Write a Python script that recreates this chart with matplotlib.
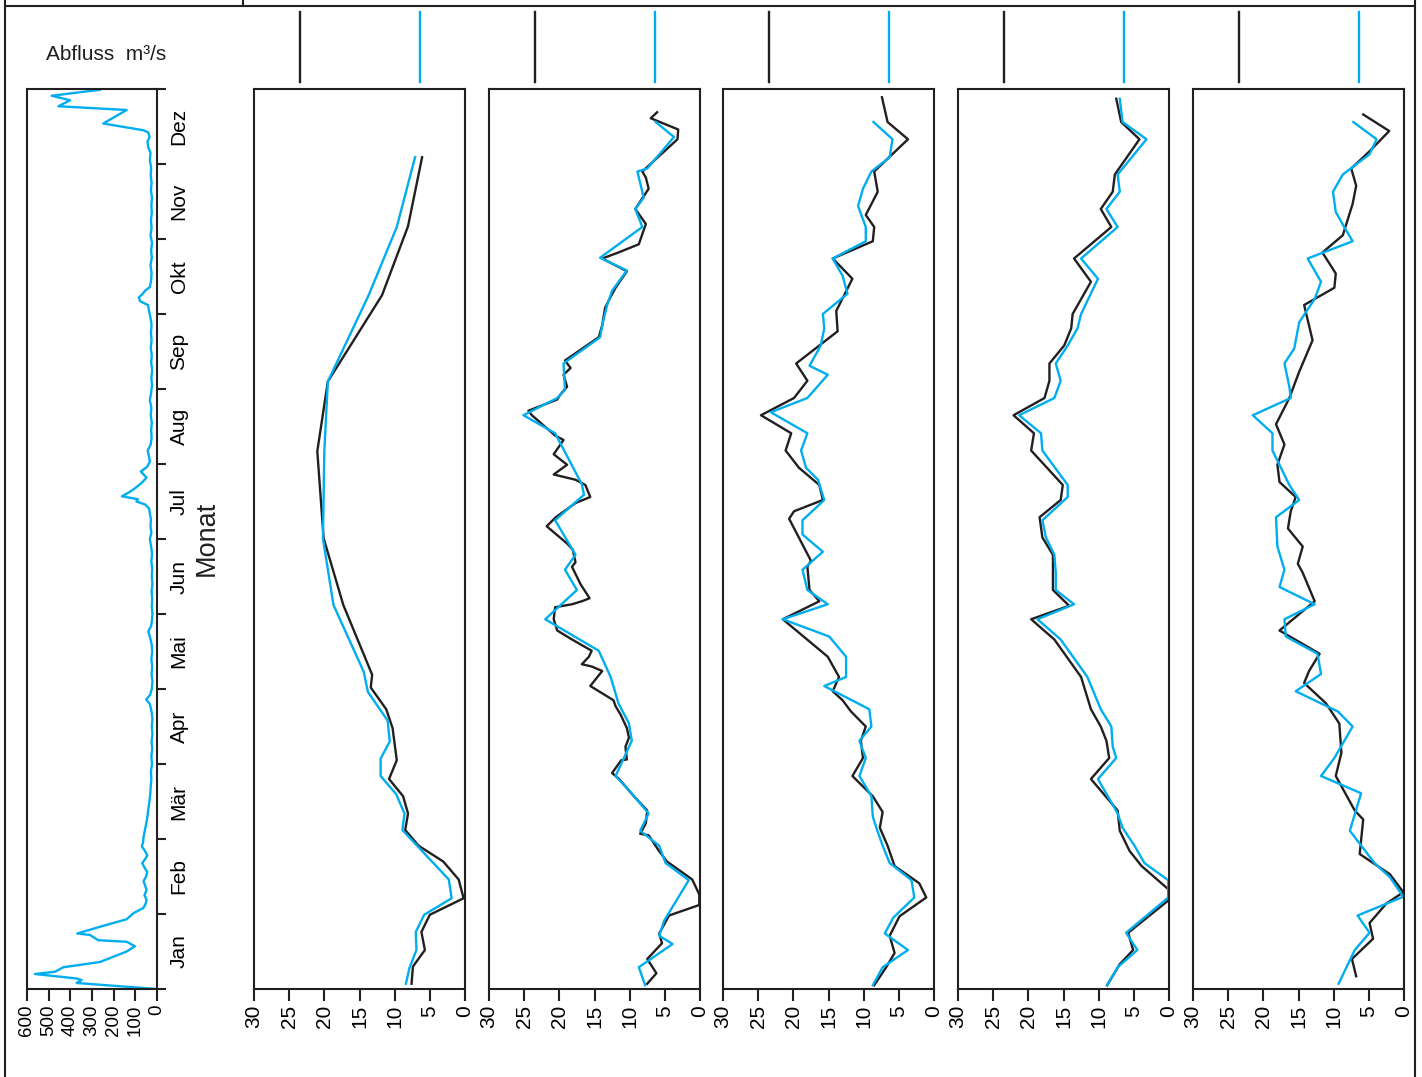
import matplotlib
matplotlib.use("Agg")
import matplotlib.pyplot as plt
from matplotlib.lines import Line2D

plt.rcParams['font.family'] = ['Liberation Sans', 'DejaVu Sans']

MONTHS = ["Jan", "Feb", "Mär", "Apr", "Mai", "Jun", "Jul", "Aug", "Sep", "Okt", "Nov", "Dez"]
Q_TICKS = [0, 100, 200, 300, 400, 500, 600]
V_TICKS = [0, 5, 10, 15, 20, 25, 30]

# discharge (month position, m3/s)
ABFLUSS = [(0.00, 0), (0.08, 371), (0.12, 348), (0.14, 371), (0.20, 563), (0.23, 471), (0.29, 432),
           (0.36, 263), (0.50, 140), (0.57, 102), (0.63, 140), (0.65, 271), (0.72, 309), (0.74, 368),
           (0.83, 263), (0.93, 140), (1.01, 109), (1.08, 63), (1.14, 52), (1.19, 48), (1.25, 58),
           (1.32, 48), (1.38, 55), (1.44, 62), (1.50, 50), (1.56, 45), (1.62, 58), (1.68, 68),
           (1.73, 55), (1.78, 45), (1.84, 55), (1.90, 70), (1.96, 64), (2.03, 62), (2.10, 57),
           (2.17, 52), (2.25, 47), (2.32, 43), (2.40, 40), (2.50, 35), (2.60, 31), (2.70, 29),
           (2.80, 26), (2.90, 28), (3.00, 23), (3.10, 26), (3.20, 22), (3.30, 25), (3.40, 21),
           (3.50, 24), (3.60, 21), (3.70, 25), (3.80, 33), (3.86, 50), (3.92, 32), (4.00, 24),
           (4.10, 21), (4.20, 25), (4.30, 22), (4.40, 26), (4.50, 22), (4.60, 25), (4.70, 33),
           (4.77, 40), (4.84, 27), (4.92, 23), (5.00, 21), (5.10, 24), (5.20, 22), (5.30, 25),
           (5.40, 21), (5.50, 24), (5.60, 22), (5.70, 26), (5.80, 23), (5.90, 27), (6.00, 33),
           (6.08, 26), (6.17, 30), (6.26, 28), (6.34, 33), (6.41, 37), (6.46, 55), (6.50, 95),
           (6.53, 88), (6.57, 162), (6.62, 130), (6.68, 100), (6.75, 70), (6.82, 48), (6.90, 75),
           (6.96, 46), (7.03, 33), (7.10, 37), (7.18, 43), (7.26, 29), (7.35, 25), (7.45, 27),
           (7.55, 24), (7.65, 29), (7.75, 26), (7.85, 33), (7.95, 27), (8.05, 23), (8.15, 26),
           (8.25, 22), (8.35, 27), (8.45, 24), (8.55, 29), (8.65, 25), (8.75, 28), (8.85, 25),
           (8.95, 30), (9.05, 37), (9.12, 42), (9.17, 78), (9.22, 84), (9.27, 66), (9.31, 55),
           (9.36, 33), (9.45, 27), (9.55, 25), (9.65, 30), (9.75, 24), (9.85, 27), (9.95, 23),
           (10.05, 30), (10.15, 25), (10.25, 28), (10.35, 24), (10.45, 26), (10.55, 23), (10.65, 28),
           (10.75, 25), (10.85, 29), (10.95, 27), (11.05, 33), (11.15, 30), (11.22, 40), (11.30, 44),
           (11.36, 34), (11.42, 40), (11.45, 63), (11.54, 248), (11.72, 140), (11.77, 455),
           (11.85, 401), (11.91, 486), (11.99, 263)]

# panel series: (month position, value)
P1_BLACK = [(0.07, 7.6), (0.30, 7.4), (0.52, 5.7), (0.76, 6.2), (0.99, 5.0), (1.21, 0.2), (1.46, 0.9),
            (1.70, 3.1), (1.91, 6.6), (2.12, 8.5), (2.34, 8.1), (2.57, 8.8), (2.80, 10.8), (3.05, 9.7),
            (3.48, 10.3), (3.73, 11.2), (4.02, 13.4), (4.19, 13.2), (5.12, 17.3), (6.01, 20.1),
            (7.17, 21.0), (8.10, 19.5), (9.25, 11.8), (10.17, 8.1), (11.09, 6.1)]
P1_BLUE = [(0.07, 8.4), (0.28, 7.9), (0.52, 6.9), (0.76, 7.0), (0.99, 5.8), (1.21, 1.9), (1.46, 2.3),
           (2.12, 8.9), (2.34, 8.6), (2.60, 9.8), (2.84, 12.0), (3.07, 12.0), (3.30, 10.7), (3.58, 11.0),
           (3.96, 13.8), (4.23, 14.4), (5.12, 18.7), (6.01, 20.2), (7.17, 20.0), (8.10, 19.5),
           (9.25, 13.7), (10.16, 9.7), (11.09, 7.1)]

P2_BLACK = [(0.07, 7.5), (0.21, 6.2), (0.40, 7.5), (0.61, 5.4), (0.74, 5.8), (0.98, 4.4), (1.12, 0.1),
            (1.26, 0.1), (1.46, 1.1), (1.70, 4.7), (1.85, 5.9), (2.05, 7.3), (2.07, 8.5), (2.21, 7.7),
            (2.38, 7.5), (2.57, 9.4), (2.80, 11.5), (2.88, 12.5), (3.05, 11.2), (3.06, 10.4), (3.23, 10.6),
            (3.35, 10.1), (3.48, 10.4), (3.56, 10.8), (3.66, 11.3), (3.77, 12.0), (3.85, 12.3), (4.04, 15.6),
            (4.24, 13.9), (4.30, 15.4), (4.33, 16.8), (4.43, 15.8), (4.51, 15.4), (4.66, 18.2), (4.78, 20.3),
            (4.93, 20.8), (5.09, 20.6), (5.13, 18.2), (5.17, 16.8), (5.21, 15.7), (5.40, 17.0), (5.63, 18.2),
            (5.69, 17.7), (5.86, 18.1), (5.94, 18.9), (6.17, 21.8), (6.29, 20.5), (6.48, 17.7), (6.56, 15.6),
            (6.72, 16.3), (6.79, 17.7), (6.86, 20.8), (6.99, 18.9), (7.13, 20.8), (7.32, 19.4), (7.38, 20.6),
            (7.65, 23.9), (7.71, 24.4), (7.86, 20.3), (7.92, 19.9), (8.03, 18.9), (8.19, 19.4), (8.28, 18.4),
            (8.38, 19.2), (8.69, 14.4), (8.85, 13.9), (9.08, 13.5), (9.23, 12.7), (9.35, 12.0), (9.57, 10.4),
            (9.74, 13.9), (9.82, 11.6), (9.93, 8.7), (10.20, 7.7), (10.40, 9.2), (10.67, 7.3), (10.82, 7.7),
            (10.90, 8.2), (11.33, 3.2), (11.46, 3.1), (11.61, 7.0), (11.69, 6.1)]
P2_BLUE = [(0.05, 7.8), (0.29, 8.7), (0.60, 3.9), (0.71, 5.8), (0.91, 5.1), (1.45, 1.6), (1.68, 4.9),
           (1.91, 5.8), (2.11, 8.5), (2.34, 7.3), (2.65, 10.1), (2.84, 12.0), (3.31, 9.7), (3.54, 10.1),
           (3.81, 11.6), (4.16, 12.7), (4.51, 14.4), (4.93, 22.0), (5.32, 17.5), (5.59, 19.2), (5.79, 17.7),
           (6.25, 20.6), (6.59, 16.5), (6.73, 16.8), (7.41, 20.6), (7.65, 25.1), (7.88, 20.3), (7.99, 19.2),
           (8.34, 19.4), (8.69, 14.2), (8.85, 13.9), (9.12, 13.2), (9.31, 12.5), (9.58, 10.4), (9.75, 14.2),
           (10.16, 8.2), (10.40, 9.2), (10.55, 8.0), (10.90, 8.9), (10.94, 7.5), (11.36, 3.7), (11.56, 6.3)]

P3_BLACK = [(0.05, 8.5), (0.29, 6.8), (0.48, 5.6), (0.71, 6.3), (0.97, 4.9), (1.22, 1.1), (1.41, 2.1),
            (1.64, 5.6), (1.91, 6.6), (2.15, 7.7), (2.36, 7.3), (2.57, 8.7), (2.84, 11.6), (3.08, 10.1),
            (3.31, 10.4), (3.50, 9.7), (3.70, 11.8), (3.85, 13.0), (3.97, 14.4), (4.16, 13.5), (4.43, 15.1),
            (4.93, 21.5), (5.17, 16.3), (5.32, 17.7), (5.63, 18.0), (5.71, 17.5), (6.27, 20.6), (6.37, 19.9),
            (6.52, 15.8), (6.72, 16.3), (6.95, 19.2), (7.18, 21.1), (7.41, 20.3), (7.65, 24.6), (7.88, 19.9),
            (8.11, 18.0), (8.34, 19.6), (8.58, 16.3), (8.77, 13.7), (9.04, 13.9), (9.47, 11.6), (9.74, 14.4),
            (9.97, 8.7), (10.16, 8.5), (10.32, 9.7), (10.63, 8.0), (10.90, 8.5), (11.33, 3.7), (11.56, 6.6),
            (11.89, 7.4)]
P3_BLUE = [(0.05, 8.7), (0.29, 7.3), (0.52, 3.7), (0.74, 7.0), (0.95, 5.8), (1.22, 2.8), (1.45, 3.2),
           (1.68, 6.3), (1.91, 7.3), (2.15, 8.2), (2.30, 8.7), (2.57, 8.9), (2.84, 10.6), (3.08, 9.7),
           (3.31, 10.6), (3.50, 8.9), (3.73, 9.2), (4.04, 15.6), (4.16, 12.5), (4.43, 12.5), (4.70, 14.9),
           (4.93, 21.5), (5.13, 15.1), (5.32, 18.0), (5.59, 18.7), (5.83, 15.8), (6.06, 18.7), (6.25, 18.7),
           (6.52, 15.6), (6.79, 16.5), (6.95, 18.2), (7.18, 18.9), (7.41, 18.0), (7.69, 23.2), (7.88, 18.0),
           (8.19, 15.1), (8.31, 17.7), (8.58, 16.1), (8.81, 15.6), (9.00, 15.8), (9.27, 12.3), (9.51, 13.0),
           (9.74, 14.4), (9.97, 9.7), (10.16, 9.7), (10.44, 10.8), (10.67, 10.1), (10.90, 8.9), (11.09, 6.3),
           (11.33, 5.9), (11.56, 8.6)]

P4_BLACK = [(0.05, 8.8), (0.33, 7.0), (0.52, 5.1), (0.75, 5.8), (1.18, 0.1), (1.33, 0.1), (1.64, 3.9),
            (1.84, 5.6), (2.11, 7.0), (2.38, 7.3), (2.80, 11.1), (3.08, 8.5), (3.31, 8.9), (3.50, 9.7),
            (3.73, 11.1), (4.16, 12.5), (4.66, 16.3), (4.93, 19.6), (5.11, 14.2), (5.32, 16.5), (5.55, 16.5),
            (5.79, 16.5), (6.02, 18.0), (6.29, 18.4), (6.52, 15.4), (6.72, 15.1), (7.18, 19.6), (7.41, 19.2),
            (7.65, 22.1), (7.88, 17.7), (8.11, 17.0), (8.34, 17.0), (8.58, 14.9), (8.81, 13.9), (9.00, 13.7),
            (9.43, 11.1), (9.74, 13.5), (10.16, 8.2), (10.40, 9.7), (10.63, 8.0), (10.86, 7.7), (11.33, 4.2),
            (11.56, 6.8), (11.87, 7.5)]
P4_BLUE = [(0.05, 8.8), (0.29, 7.3), (0.52, 4.5), (0.75, 6.1), (1.22, 0.1), (1.45, 0.1), (1.68, 3.5),
           (1.91, 4.9), (2.15, 6.6), (2.34, 7.3), (2.80, 10.1), (3.08, 7.5), (3.23, 8.0), (3.50, 8.2),
           (3.73, 9.7), (4.16, 11.6), (4.66, 15.4), (4.93, 18.7), (5.13, 13.5), (5.32, 16.1), (5.55, 16.1),
           (5.79, 16.3), (6.02, 17.5), (6.25, 18.0), (6.56, 14.4), (6.72, 14.4), (7.18, 18.0), (7.41, 18.2),
           (7.65, 21.3), (7.88, 16.3), (8.11, 15.4), (8.34, 16.1), (8.58, 14.4), (8.81, 13.0), (9.00, 12.5),
           (9.47, 10.1), (9.74, 12.5), (10.16, 7.3), (10.40, 8.9), (10.63, 7.0), (10.86, 7.3), (11.33, 3.2),
           (11.56, 6.6), (11.87, 7.0)]

P5_BLACK = [(0.17, 6.8), (0.40, 7.4), (0.67, 4.4), (0.88, 4.9), (1.14, 2.5), (1.29, 0.1), (1.53, 2.0),
            (1.80, 6.3), (2.26, 5.8), (2.38, 7.0), (2.84, 9.7), (3.15, 8.9), (3.54, 9.2), (3.81, 11.1),
            (4.08, 14.2), (4.24, 13.5), (4.47, 12.0), (4.78, 17.7), (5.17, 12.7), (5.55, 14.4), (5.67, 15.1),
            (5.90, 14.4), (6.14, 16.5), (6.37, 16.1), (6.56, 15.4), (6.76, 17.7), (6.99, 18.0), (7.26, 17.0),
            (7.53, 18.2), (7.88, 16.3), (8.23, 14.9), (8.65, 13.0), (9.12, 14.2), (9.35, 9.9), (9.54, 9.7),
            (9.82, 11.6), (10.05, 8.7), (10.47, 7.3), (10.71, 6.8), (10.94, 7.5), (11.17, 4.9), (11.44, 2.1),
            (11.66, 5.8)]
P5_BLUE = [(0.07, 9.3), (0.52, 7.0), (0.75, 4.9), (0.98, 6.6), (1.23, 0.1), (1.49, 2.0), (1.68, 4.2),
           (2.11, 7.7), (2.61, 6.1), (2.84, 11.8), (3.08, 9.9), (3.50, 7.3), (3.70, 9.4), (3.97, 15.4),
           (4.20, 11.8), (4.47, 12.3), (4.70, 16.8), (4.93, 17.0), (5.13, 12.7), (5.36, 17.7), (5.59, 17.0),
           (5.90, 18.0), (6.29, 18.2), (6.52, 14.9), (6.72, 16.3), (6.95, 17.5), (7.18, 18.7), (7.41, 18.7),
           (7.65, 21.5), (7.88, 16.1), (8.03, 16.3), (8.34, 17.0), (8.54, 15.6), (8.89, 14.9), (9.20, 12.7),
           (9.43, 11.8), (9.74, 13.7), (9.97, 7.3), (10.16, 8.5), (10.36, 9.7), (10.63, 10.1), (10.86, 8.7),
           (11.13, 4.9), (11.33, 3.9), (11.56, 7.2)]

PANELS = [(P1_BLACK, P1_BLUE), (P2_BLACK, P2_BLUE), (P3_BLACK, P3_BLUE),
          (P4_BLACK, P4_BLUE), (P5_BLACK, P5_BLUE)]

BLACK = '#231f20'
BLUE = '#00aeef'

W, H = 1422, 1077
fig = plt.figure(figsize=(W / 100, H / 100), dpi=100)


def ax_at(x0, y0, x1, y1):
    return fig.add_axes([x0 / W, 1 - y1 / H, (x1 - x0) / W, (y1 - y0) / H])


def style(ax):
    for s in ax.spines.values():
        s.set_linewidth(1.5)
        s.set_color(BLACK)


# ---- discharge panel ----
ax0 = ax_at(27, 89, 157, 989)
style(ax0)
ax0.plot([q for _, q in ABFLUSS], [m for m, _ in ABFLUSS], color=BLUE, lw=1.7)
ax0.set_xlim(600, 0)
ax0.set_ylim(0, 12)
ax0.set_xticks(Q_TICKS)
ax0.set_xticklabels([str(t) for t in Q_TICKS], rotation=90)
ax0.tick_params(axis='x', direction='out', length=8.5, width=1.5, labelsize=13.5, pad=3, color=BLACK)
ax0.yaxis.tick_right()
ax0.set_yticks(range(13))
ax0.set_yticklabels([])
ax0.set_yticks([i + 0.5 for i in range(12)], minor=True)
ax0.set_yticklabels(MONTHS, minor=True, rotation=90, va='center')
ax0.tick_params(axis='y', which='major', direction='out', length=6.5, width=1.5,
                right=True, left=False, labelright=False, color=BLACK)
ax0.tick_params(axis='y', which='minor', length=0, right=True, left=False,
                labelright=True, labelsize=15, pad=9)

# ---- comparison panels ----
for i, (blk, blu) in enumerate(PANELS):
    x0 = [254, 489, 723, 958, 1193][i]
    ax = ax_at(x0, 89, x0 + 211, 989)
    style(ax)
    ax.plot([v for _, v in blk], [m for m, _ in blk], color=BLACK, lw=1.7)
    ax.plot([v for _, v in blu], [m for m, _ in blu], color=BLUE, lw=1.7)
    ax.set_xlim(30, 0)
    ax.set_ylim(0, 12)
    ax.set_yticks([])
    ax.set_xticks(V_TICKS)
    ax.set_xticklabels([str(t) for t in V_TICKS], rotation=90)
    ax.tick_params(axis='x', direction='out', length=8.5, width=1.5, labelsize=15, pad=3, color=BLACK)
    # legend stubs above the panel
    ax.plot([0.218, 0.218], [1.0078, 1.0856], transform=ax.transAxes, color=BLACK, lw=1.7, clip_on=False)
    ax.plot([0.787, 0.787], [1.0078, 1.0856], transform=ax.transAxes, color=BLUE, lw=1.7, clip_on=False)

# ---- texts ----
fig.text(46 / W, 1 - 55 / H, "Abfluss  m³/s", fontsize=15, ha='left', va='center', color=BLACK)
fig.text(207 / W, 1 - 538 / H, "Monat", fontsize=19.5, rotation=90, ha='center', va='center', color=BLACK)

# ---- frame lines ----
for xs, ys in [([5 / W, 5 / W], [0, 1]),
               ([5 / W, 1415 / W], [1 - 6 / H, 1 - 6 / H]),
               ([1415 / W, 1415 / W], [0, 1]),
               ([243 / W, 243 / W], [1 - 6 / H, 1])]:
    fig.add_artist(Line2D(xs, ys, transform=fig.transFigure, color=BLACK, lw=1.5))

fig.savefig('out.png', dpi=100)
